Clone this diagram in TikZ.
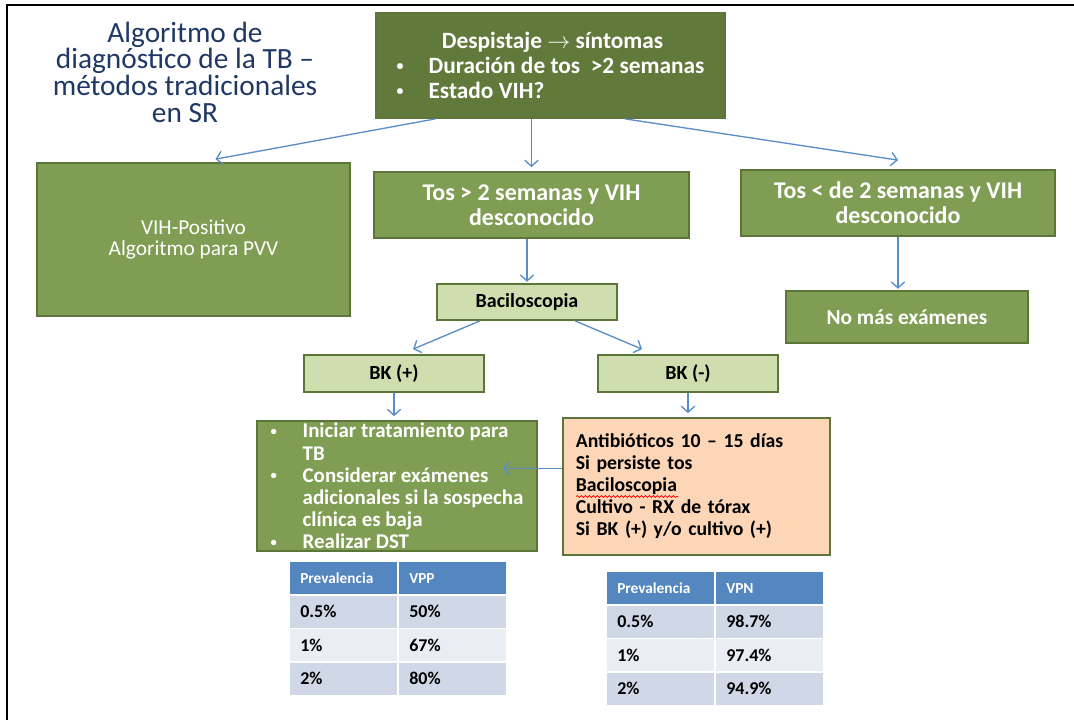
\documentclass[tikz,border=0pt]{standalone}
\usepackage{fontspec}
\setmainfont{Carlito}
\usepackage{tikz}
\usetikzlibrary{arrows.meta,positioning,calc,decorations.pathmorphing}
\definecolor{oscuro}{RGB}{97,121,58}
\definecolor{verde}{RGB}{128,157,84}
\definecolor{borde}{RGB}{92,118,58}
\definecolor{claro}{RGB}{207,222,174}
\definecolor{durazno}{RGB}{252,214,183}
\definecolor{azul}{RGB}{91,141,201}
\definecolor{titulo}{RGB}{31,56,100}
\definecolor{cabecera}{RGB}{84,134,192}
\definecolor{filaA}{RGB}{208,216,232}
\definecolor{filaB}{RGB}{233,237,244}
\tikzstyle{flecha} = [line width=1pt,azul,-{Straight Barb[length=4.5pt,width=10pt]}]
\tikzstyle{caja}   = [draw=borde,line width=1.3pt,fill=verde,text=white,align=center,inner sep=0pt,
                      font=\bfseries\fontsize{18}{19}\selectfont]
\tikzstyle{cajaclara} = [caja,fill=claro,text=black,font=\bfseries\fontsize{15}{16}\selectfont]
\tikzstyle{celda}  = [inner xsep=7.5pt,inner ysep=0pt,text width=65pt,align=left,minimum height=24pt,anchor=north west]
\newcommand{\vineta}{\makebox[24pt][l]{\raisebox{0.12em}{\scalebox{0.6}{\textbullet}}}}

\begin{document}
\begin{tikzpicture}[x=0.75pt,y=-0.75pt]
        \useasboundingbox (0,0) rectangle (1074,720);
        \draw[line width=1.6pt] (7,720) -- (7,5) -- (1074,5);
        \node[align=center,text=titulo,font=\fontsize{22}{20}\selectfont] (tit) at (185,72)
            {Algoritmo de\\diagnóstico de la TB –\\métodos tradicionales\\en SR};

        % cajas
        \node[caja,fill=oscuro,minimum width=261.75pt,minimum height=78.75pt,align=left,
              font=\bfseries\fontsize{17.5}{18.9}\selectfont] (desp) at (550.5,65.5)
            {\hspace*{34pt}Despistaje $\rightarrow$ síntomas\\
             \vineta Duración de tos\ \ >2 semanas\hspace*{12pt}\\
             \vineta Estado VIH?};
        \node[caja,minimum width=234.75pt,minimum height=114.75pt,font=\fontsize{16}{15.5}\selectfont] (vih) at (193.5,239.5)
            {VIH-Positivo\\Algoritmo para PVV};
        \node[caja,minimum width=236.25pt,minimum height=49.5pt] (tosmas) at (531.5,205)
            {Tos > 2 semanas y VIH\\desconocido};
        \node[caja,minimum width=235.5pt,minimum height=49.5pt] (tosmenos) at (898,203)
            {Tos < de 2 semanas y VIH\\desconocido};
        \node[cajaclara,minimum width=135pt,minimum height=27pt] (bacilo) at (527,302) {Baciloscopia};
        \node[caja,minimum width=181.5pt,minimum height=39pt,font=\bfseries\fontsize{16}{17}\selectfont] (nomas) at (907,317) {No más exámenes};
        \node[cajaclara,minimum width=135pt,minimum height=27.75pt] (bkpos) at (394,373.5) {BK (+)};
        \node[cajaclara,minimum width=135pt,minimum height=27.75pt] (bkneg) at (688,373.5) {BK (-)};
        \node[caja,minimum width=210pt,minimum height=97.5pt,align=left,
              font=\bfseries\fontsize{15.7}{16.6}\selectfont] (tratar) at (397,486)
            {\vineta Iniciar tratamiento para\\
             \hspace*{24pt}TB\\
             \vineta Considerar exámenes\\
             \hspace*{24pt}adicionales si la sospecha\\
             \hspace*{24pt}clínica es baja\\
             \vineta Realizar DST};
        \node[caja,fill=durazno,text=black,minimum width=200.25pt,minimum height=102.75pt,
              text width=181pt,inner xsep=9.6pt,align=left,
              font=\bfseries\fontsize{14.8}{16.5}\selectfont] (antib) at (696.5,486.5)
            {Antibióticos 10 – 15 días\\
             Si persiste tos\\
             Baciloscopia\\
             Cultivo - RX de tórax\\
             Si BK (+) y/o cultivo (+)};
        \draw[red,line width=0.5pt,decorate,decoration={snake,amplitude=0.7pt,segment length=3pt}]
            ($(antib.west)+(14,10)$) -- ++(102,0);

        % flechas
        \draw[flecha] ($(desp.south)+(-115,0)$) -- ($(vih.north)+(22,-3)$);
        \draw[flecha,shorten >=3pt] (desp.south -| tosmas.north) -- (tosmas.north);
        \draw[flecha] ($(desp.south)+(74.5,0)$) -- ($(tosmenos.north)+(0,-9)$);
        \draw[flecha,shorten >=1pt] (tosmas.south -| bacilo.north) -- (bacilo.north);
        \draw[flecha,shorten >=1pt] (tosmenos.south) -- (tosmenos.south |- nomas.north);
        \draw[flecha] ($(bacilo.south)+(-47,0)$) -- ($(bkpos.north)+(19,-5)$);
        \draw[flecha] ($(bacilo.south)+(48,0)$) -- ($(bkneg.north)+(-46,-5)$);
        \draw[flecha,shorten >=3pt] (bkpos.south) -- (bkpos.south |- tratar.north);
        \draw[flecha,shorten >=3pt] (bkneg.south) -- (bkneg.south |- antib.north);
        \coordinate (salida) at ($(antib.west)+(0,-18)$);
        \draw[flecha] (salida) -- ($(salida -| tratar.east)+(-35,0)$);

        % tablas
        \foreach \tx/\ty/\col/\nom in {290/562/VPP/a,607/572/VPN/b}
        {
            \node[celda,fill=cabecera,text=white,font=\bfseries\fontsize{11.5}{13}\selectfont] (\nom h1) at (\tx,\ty) {Prevalencia};
            \node[celda,fill=cabecera,text=white,font=\bfseries\fontsize{11.5}{13}\selectfont] (\nom h2) at (\tx+109,\ty) {\col};
        }
        \foreach \p/\v/\f [count=\i] in {0.5\%/50\%/filaA,1\%/67\%/filaB,2\%/80\%/filaA}
        {
            \node[celda,fill=\f,font=\bfseries\fontsize{13.5}{15}\selectfont] (ap\i) at (290,562+33.5*\i) {\p};
            \node[celda,fill=\f,font=\bfseries\fontsize{13.5}{15}\selectfont] (av\i) at (399,562+33.5*\i) {\v};
        }
        \foreach \p/\v/\f [count=\i] in {0.5\%/98.7\%/filaA,1\%/97.4\%/filaB,2\%/94.9\%/filaA}
        {
            \node[celda,fill=\f,font=\bfseries\fontsize{13.5}{15}\selectfont] (bp\i) at (607,572+33.5*\i) {\p};
            \node[celda,fill=\f,font=\bfseries\fontsize{13.5}{15}\selectfont] (bv\i) at (716,572+33.5*\i) {\v};
        }
\end{tikzpicture}
\end{document}
